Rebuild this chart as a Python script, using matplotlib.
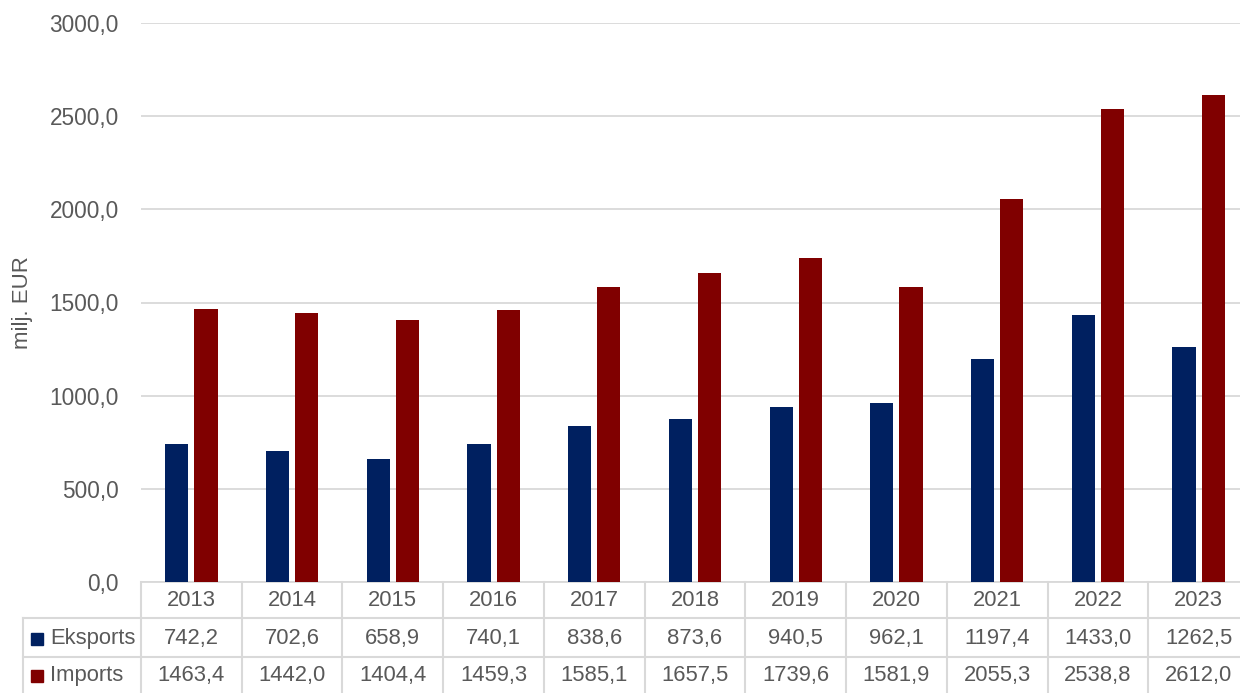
import matplotlib.pyplot as plt
import numpy as np
from matplotlib.lines import Line2D
from matplotlib.patches import Rectangle

plt.rcParams.update({
    'font.family': ['Liberation Sans', 'DejaVu Sans'],
    'font.size': 15.8,
    'text.color': '#595959',
})

# --- Data ---
years = ['2013', '2014', '2015', '2016', '2017', '2018', '2019', '2020', '2021', '2022', '2023']
eksports = [742.2, 702.6, 658.9, 740.1, 838.6, 873.6, 940.5, 962.1, 1197.4, 1433.0, 1262.5]
imports = [1463.4, 1442.0, 1404.4, 1459.3, 1585.1, 1657.5, 1739.6, 1581.9, 2055.3, 2538.8, 2612.0]
series_names = ['Eksports', 'Imports']
y_ticks = [0, 500, 1000, 1500, 2000, 2500, 3000]

COLORS = {'Eksports': '#002060', 'Imports': '#800000'}
GRID = '#d9d9d9'
TXT = '#595959'

W, H = 1240, 693
fig = plt.figure(figsize=(W / 100, H / 100), dpi=100)

# plot area in pixel coords (right edge runs slightly past the image)
x0, x1 = 141, 1249
y_top, y_bot = 23, 582
ax = fig.add_axes([x0 / W, 1 - y_bot / H, (x1 - x0) / W, (y_bot - y_top) / H])

x = np.arange(len(years))
bw = 0.23
off = 0.145
ax.bar(x - off, eksports, bw, color=COLORS['Eksports'], zorder=3)
ax.bar(x + off, imports, bw, color=COLORS['Imports'], zorder=3)

ax.set_xlim(-0.5, len(years) - 0.5)
ax.set_ylim(0, 3000)
ax.set_yticks(y_ticks)
ax.set_yticklabels([f"{v:.1f}".replace('.', ',') for v in y_ticks], color=TXT, fontsize=16.3)
ax.tick_params(axis='y', length=0, pad=16)
ax.set_xticks([])
ax.yaxis.grid(True, color=GRID, linewidth=1.3)
ax.set_axisbelow(True)
for s in ['top', 'right', 'left']:
    ax.spines[s].set_visible(False)
ax.spines['bottom'].set_color(GRID)
ax.spines['bottom'].set_linewidth(1.3)
ax.set_ylabel('milj. EUR', color=TXT, labelpad=12, fontsize=16)

# --- Data table below the plot (overlay axes in pixel coords) ---
ov = fig.add_axes([0, 0, 1, 1], zorder=5)
ov.set_xlim(0, W)
ov.set_ylim(H, 0)
ov.axis('off')
ov.patch.set_alpha(0)

col_w = (x1 - x0) / len(years)
label_left = 23
row_lines = [582, 618, 657]
row_bottom = 700

def line(xa, ya, xb, yb):
    ov.add_line(Line2D([xa, xb], [ya, yb], color=GRID, linewidth=1.5))

# vertical lines at column boundaries
for i in range(len(years) + 1):
    xc = x0 + i * col_w
    line(xc, row_lines[0], xc, row_bottom)
line(label_left, row_lines[1], label_left, row_bottom)
line(label_left, row_lines[1], x1, row_lines[1])
line(label_left, row_lines[2], x1, row_lines[2])

# year header
for i, yr in enumerate(years):
    ov.text(x0 + (i + 0.5) * col_w, (row_lines[0] + row_lines[1]) / 2 + 1, yr,
            ha='center', va='center', color=TXT)

rows = [(series_names[0], eksports, (row_lines[1] + row_lines[2]) / 2 + 1),
        (series_names[1], imports, (row_lines[2] + row_bottom) / 2 - 3)]
for name, vals, yc in rows:
    ov.add_patch(Rectangle((31, yc - 6), 12, 12, color=COLORS[name]))
    ov.text(50, yc, name, ha='left', va='center', color=TXT)
    for i, v in enumerate(vals):
        ov.text(x0 + (i + 0.5) * col_w, yc, f"{v:.1f}".replace('.', ','),
                ha='center', va='center', color=TXT)

fig.savefig('out.png', dpi=100)
